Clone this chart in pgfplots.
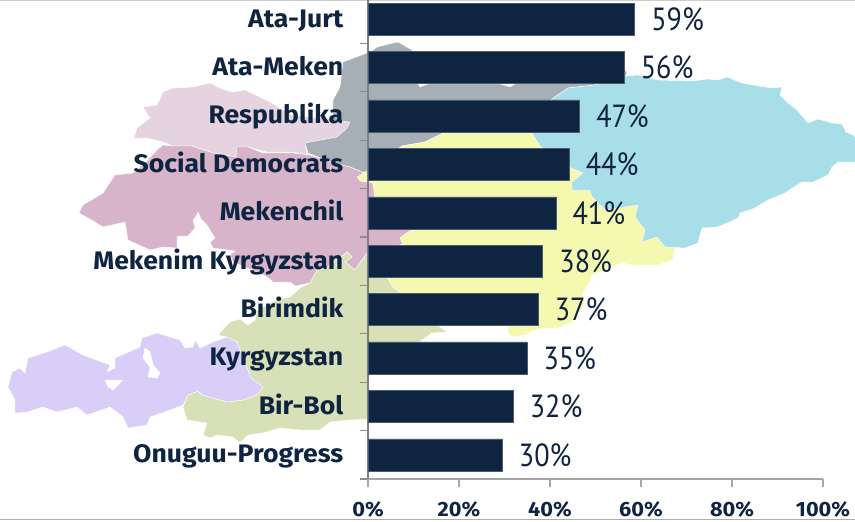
\documentclass[border=0pt]{standalone}
\usepackage{graphicx}
\usepackage{pgfplots}
\usepackage{pgfplotstable}
\usepackage{fontspec}
\setmainfont{PT Sans}
\newfontfamily\labelfont[FakeStretch=1.05]{Fira Sans}
\pgfplotsset{compat=1.18}
\definecolor{ink}{HTML}{0F2440}
\definecolor{cPink}{HTML}{E6D3E0}
\definecolor{cMauve}{HTML}{D7B4CA}
\definecolor{cGray}{HTML}{A6AEB6}
\definecolor{cBlue}{HTML}{A8DEE8}
\definecolor{cYellow}{HTML}{F5F9B0}
\definecolor{cSage}{HTML}{D8E0B8}
\definecolor{cLav}{HTML}{D8CEF8}
\pgfplotstableread{
y v lab
9 58.6 59
8 56.3 56
7 46.5 47
6 44.2 44
5 41.3 41
4 38.4 38
3 37.4 37
2 34.9 35
1 31.9 32
0 29.5 30
}\shares
\begin{document}
\begin{tikzpicture}
\path[use as bounding box] (0,0) rectangle (641.25pt,390.75pt);
\clip (0,0) rectangle (641.25pt,390.75pt);
\begin{axis}[
  at={(0,0)},anchor=south west,scale only axis,
  width=641.25pt,height=390.75pt,
  xmin=0,xmax=855,ymin=0,ymax=521,y dir=reverse,
  hide axis,clip=true,
  map/.style={draw=white,line width=0.3pt,forget plot},
]
% Pale pink
\addplot[map,fill=cPink] coordinates {(210,83)(222,89)(233,92)(245,90)(258,96)(270,102)(280,108)(292,115)(320,118)(350,122)(347,128)(337,137)(305,143)(307,155)(293,152)(267,152)(248,147)(237,147)(236,157)(213,153)(192,146)(173,146)(163,142)(147,138)(134,138)(137,128)(150,118)(143,107)(157,105)(163,92)(173,88)(193,87)(210,83)};
% Gray
\addplot[map,fill=cGray] coordinates {(373,50)(377,47)(393,43)(398,42)(412,50)(418,84)(420,87)(428,84)(500,84)(510,87)(515,84)(600,70)(625,70)(627,72)(625,77)(595,85)(568,88)(552,99)(540,125)(443,133)(425,142)(402,146)(368,172)(362,172)(350,167)(333,163)(308,153)(305,143)(337,137)(347,128)(350,122)(333,120)(333,100)(340,87)(343,62)(367,53)(373,50)};
% Mauve
\addplot[map,fill=cMauve] coordinates {(163,145)(173,146)(192,146)(213,153)(236,157)(237,147)(248,147)(263,153)(293,153)(310,155)(333,163)(350,167)(362,172)(368,180)(373,183)(375,197)(423,229)(410,231)(400,238)(403,244)(380,250)(367,253)(355,270)(345,262)(352,257)(347,252)(340,258)(333,262)(327,268)(317,270)(310,283)(295,286)(290,282)(273,282)(267,277)(260,273)(247,268)(233,262)(230,255)(235,251)(213,248)(210,242)(215,238)(207,225)(201,219)(198,212)(195,218)(193,220)(195,228)(188,236)(177,236)(177,248)(163,247)(150,250)(128,240)(125,222)(103,227)(90,219)(79,213)(83,205)(103,193)(115,175)(133,173)(145,163)(157,150)(163,145)};
% Sage
\addplot[map,fill=cSage] coordinates {(367,253)(387,277)(393,287)(401,293)(435,320)(440,327)(447,332)(432,333)(422,340)(415,345)(390,360)(370,375)(367,388)(372,400)(368,419)(350,420)(330,422)(320,430)(300,430)(280,428)(263,433)(248,435)(240,443)(233,437)(217,435)(210,438)(203,435)(207,423)(187,420)(183,407)(188,395)(198,391)(202,395)(227,402)(243,400)(257,395)(263,387)(250,377)(248,370)(237,342)(227,337)(218,335)(230,322)(240,319)(248,325)(255,320)(257,310)(277,300)(290,297)(300,288)(310,283)(317,270)(327,268)(333,262)(340,258)(347,252)(352,257)(345,262)(355,270)(367,253)};
% Yellow
\addplot[map,fill=cYellow] coordinates {(403,244)(400,238)(410,231)(423,229)(375,197)(373,183)(360,181)(357,177)(367,171)(402,146)(425,142)(443,133)(470,120)(532,133)(590,150)(640,200)(675,248)(673,260)(658,265)(632,265)(622,263)(592,275)(591,280)(583,293)(585,303)(572,322)(558,328)(542,328)(535,330)(525,335)(512,337)(508,333)(508,324)(440,322)(401,293)(393,287)(387,277)(403,244)};
% Blue
\addplot[map,fill=cBlue] coordinates {(552,99)(568,88)(595,85)(625,76)(638,75)(658,80)(692,81)(708,79)(718,80)(727,77)(742,83)(758,86)(772,88)(782,87)(780,95)(788,103)(797,110)(808,123)(818,119)(832,123)(842,124)(846,132)(853,135)(860,143)(860,162)(838,162)(832,167)(828,175)(813,182)(802,182)(785,193)(768,200)(755,208)(740,213)(738,218)(718,227)(702,228)(698,243)(685,248)(665,247)(657,237)(642,242)(645,230)(635,217)(638,205)(605,210)(592,197)(590,190)(572,190)(572,182)(583,173)(569,167)(540,146)(532,133)(552,99)};
% Lavender
\addplot[map,fill=cLav] coordinates {(227,337)(237,342)(248,370)(250,377)(263,387)(257,395)(243,400)(227,402)(202,395)(198,391)(188,395)(183,405)(170,410)(150,417)(147,425)(128,428)(123,417)(110,407)(87,415)(77,407)(57,412)(43,407)(27,412)(15,413)(15,400)(8,387)(12,372)(20,368)(25,373)(28,358)(47,352)(65,345)(83,355)(110,365)(107,372)(115,368)(115,358)(140,347)(142,338)(157,333)(180,340)(185,348)(193,347)(195,340)(200,348)(213,342)(227,337)};
% Lakes
\addplot[map,fill=white] coordinates {(145,348)(150,352)(153,365)(160,373)(157,378)(148,377)(150,367)(143,358)(145,348)};
\addplot[map,fill=white] coordinates {(105,380)(123,380)(113,390)(108,387)(105,380)};
% Page rules
\addplot[forget plot,color=black!20,line width=0.8pt] coordinates {(0,0.4)(855,0.4)};
\addplot[forget plot,color=black!32,line width=0.8pt] coordinates {(0,519.6)(855,519.6)};
\end{axis}
\begin{axis}[
  at={(276pt,31.5pt)},anchor=south west,scale only axis,
  width=341.25pt,height=363pt,
  xmin=0,xmax=100,ymin=-0.5,ymax=9.5,
  axis lines=left,
  axis line style={-},
  x axis line style={color=black!35,line width=1.1pt},
  y axis line style={color=black!50,line width=1.1pt},
  xbar,bar width=24pt,bar shift=0pt,
  xtick={0,20,40,60,80,100},
  xticklabels={0\%,20\%,40\%,60\%,80\%,100\%},
  ytick={0,...,9},
  yticklabels={Onuguu-Progress,Bir-Bol,Kyrgyzstan,Birimdik,Mekenim Kyrgyzstan,Mekenchil,Social Democrats,Respublika,Ata-Meken,Ata-Jurt},
  minor ytick={-0.5,0.5,...,9.5},
  major tick length=0pt,
  minor tick length=6pt,
  tick align=outside,
  minor y tick style={color=black!45,line width=0.8pt},
  extra x ticks={0,20,40,60,80,100},
  extra x tick labels={},
  extra x tick style={major tick length=6pt,tick style={color=black!35,line width=0.9pt}},
  yticklabel style={font=\labelfont\bfseries\fontsize{19}{22}\selectfont,text=ink,anchor=base east,xshift=-15pt,yshift=-6pt},
  xticklabel style={font=\labelfont\bfseries\fontsize{15.5}{18}\selectfont,text=ink,anchor=base,yshift=-28pt},
  point meta=explicit symbolic,
  nodes near coords={\scalebox{0.88}[1]{\pgfplotspointmeta\%}},
  nodes near coords style={font=\fontsize{24}{28}\selectfont,text=ink,anchor=west,xshift=9pt,yshift=0pt},
  clip=false,
]
\addplot[fill=ink,draw=ink!75!white,line width=0.4pt] table[x=v,y=y,meta=lab] {\shares};
\end{axis}
\end{tikzpicture}
\end{document}
